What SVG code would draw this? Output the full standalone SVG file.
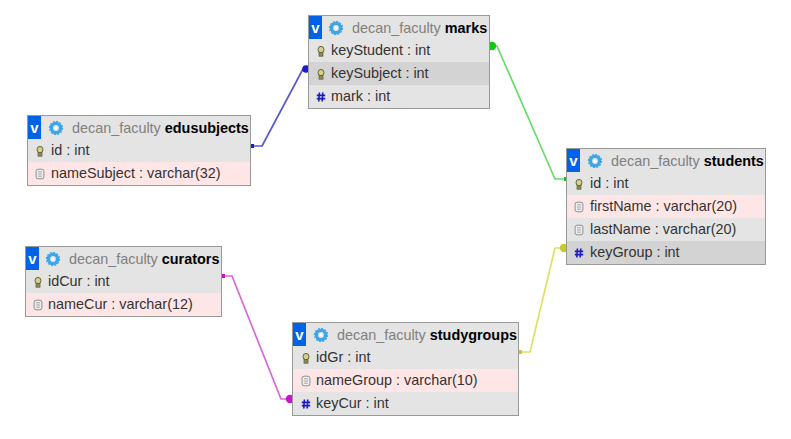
<svg xmlns="http://www.w3.org/2000/svg" xmlns:xlink="http://www.w3.org/1999/xlink" width="791" height="439" viewBox="0 0 791 439">
<style>
text{font-family:"Liberation Sans",Arial,sans-serif;font-size:14.400px;fill:#333}
.box{fill:#e4e4e4;stroke:#999;stroke-width:1}
.pink{fill:#ffe6e6}
.dark{fill:#d3d3d3}
.v{fill:#0062e6}
.vt{fill:#fff;font-weight:bold;font-size:15px;text-anchor:middle}
.db{fill:#808080}
.tn{fill:#000;font-weight:bold}
.con{fill:none;stroke-width:1.7;stroke-linejoin:round}
</style>
<defs>
<g id="gear"><circle r="4.6" fill="none" stroke="#3ea6e8" stroke-width="3.4"/><circle r="6.6" fill="none" stroke="#3ea6e8" stroke-width="1.1" stroke-dasharray="2 1.45"/><circle r="1.6" fill="#fff"/></g>
<g id="key"><ellipse cx="0" cy="-1.4" rx="3" ry="3.2" fill="#d4cf8e" stroke="#66653c" stroke-width="1"/><rect x="-2" y="1.400" width="4" height="3.800" fill="#8c8a58" stroke="#5c5b38" stroke-width="0.7"/></g>
<g id="doc"><rect x="-3.9" y="-4.800" width="7.800" height="9.600" rx="2" fill="#eee" stroke="#8f8f8f" stroke-width="1"/><path d="M-1.9-2.200H1.900M-1.900 0H1.900M-1.900 2.200H1.900" stroke="#8f8f8f" stroke-width="0.8"/></g>
<g id="hash"><path d="M-1.600-4.500-2.200 4.500M1.800-4.500 1.200 4.500M-4.200-1.600H4.200M-4.200 1.600H4.200" stroke="#1c1cc0" stroke-width="1.600" fill="none"/></g>
</defs>
<g id="connectors">
<g><path class="con" stroke="#5a5ad0" d="M251 146H262L303 69H308"/><circle cx="306" cy="69" r="3.800" fill="#1c1cc8"/><rect x="250" y="144" width="4" height="4" fill="#1c1cc8"/></g>
<g><path class="con" stroke="#66dc66" d="M490 46H497L555 179H566"/><circle cx="492" cy="46" r="4.200" fill="#10c810"/><rect x="564" y="177" width="3" height="4" fill="#10c810"/></g>
<g><path class="con" stroke="#e0e060" d="M518 352H530L555 248H566"/><circle cx="564" cy="248" r="4.200" fill="#c8c828"/><rect x="518" y="350" width="4" height="4" fill="#c8c828"/></g>
<g><path class="con" stroke="#d866d8" d="M221 276H232L281 399H292"/><circle cx="290" cy="399" r="4.200" fill="#c814c8"/><rect x="221" y="274" width="4" height="4" fill="#c814c8"/></g>
</g>
<g id="marks">
<rect class="box" x="308.500" y="15.500" width="181" height="93"/>
<rect class="dark" x="309" y="62" width="180" height="23"/>
<rect class="v" x="309" y="16" width="13" height="23"/><text class="vt" x="315.500" y="33">v</text>
<use href="#gear" x="336" y="28"/>
<text x="352" y="33"><tspan class="db">decan_faculty </tspan><tspan class="tn">marks</tspan></text>
<use href="#key" x="321" y="51"/><text x="331" y="55">keyStudent : int</text>
<use href="#key" x="321" y="74"/><text x="331" y="78">keySubject : int</text>
<use href="#hash" x="321" y="97"/><text x="331" y="101">mark : int</text>
</g>
<g id="edusubjects">
<rect class="box" x="27.500" y="115.500" width="223" height="70"/>
<rect class="pink" x="28" y="162" width="222" height="23"/>
<rect class="v" x="28" y="116" width="13" height="23"/><text class="vt" x="34.500" y="133">v</text>
<use href="#gear" x="56" y="128"/>
<text x="72" y="133"><tspan class="db">decan_faculty </tspan><tspan class="tn">edusubjects</tspan></text>
<use href="#key" x="40" y="151"/><text x="51" y="155">id : int</text>
<use href="#doc" x="40" y="174"/><text x="51" y="178">nameSubject : varchar(32)</text>
</g>
<g id="students">
<rect class="box" x="566.500" y="148.500" width="199" height="116"/>
<rect class="pink" x="567" y="195" width="198" height="23"/>
<rect class="dark" x="567" y="241" width="198" height="23"/>
<rect class="v" x="567" y="149" width="13" height="23"/><text class="vt" x="573.500" y="166">v</text>
<use href="#gear" x="595" y="161"/>
<text x="611" y="166"><tspan class="db">decan_faculty </tspan><tspan class="tn">students</tspan></text>
<use href="#key" x="579" y="184"/><text x="590" y="188">id : int</text>
<use href="#doc" x="579" y="207"/><text x="590" y="211">firstName : varchar(20)</text>
<use href="#doc" x="579" y="230"/><text x="590" y="234">lastName : varchar(20)</text>
<use href="#hash" x="579" y="253"/><text x="590" y="257">keyGroup : int</text>
</g>
<g id="curators">
<rect class="box" x="25.500" y="246.500" width="196" height="70"/>
<rect class="pink" x="26" y="293" width="195" height="23"/>
<rect class="v" x="26" y="247" width="13" height="23"/><text class="vt" x="32.500" y="264">v</text>
<use href="#gear" x="53" y="259"/>
<text x="69" y="264"><tspan class="db">decan_faculty </tspan><tspan class="tn">curators</tspan></text>
<use href="#key" x="38" y="282"/><text x="48" y="286">idCur : int</text>
<use href="#doc" x="38" y="305"/><text x="48" y="309">nameCur : varchar(12)</text>
</g>
<g id="studygroups">
<rect class="box" x="292.500" y="322.500" width="226" height="93"/>
<rect class="pink" x="293" y="369" width="225" height="23"/>
<rect class="v" x="293" y="323" width="13" height="23"/><text class="vt" x="299.500" y="340">v</text>
<use href="#gear" x="321" y="335"/>
<text x="337" y="340"><tspan class="db">decan_faculty </tspan><tspan class="tn">studygroups</tspan></text>
<use href="#key" x="306" y="358"/><text x="316" y="362">idGr : int</text>
<use href="#doc" x="306" y="381"/><text x="316" y="385">nameGroup : varchar(10)</text>
<use href="#hash" x="306" y="404"/><text x="316" y="408">keyCur : int</text>
</g>
</svg>
